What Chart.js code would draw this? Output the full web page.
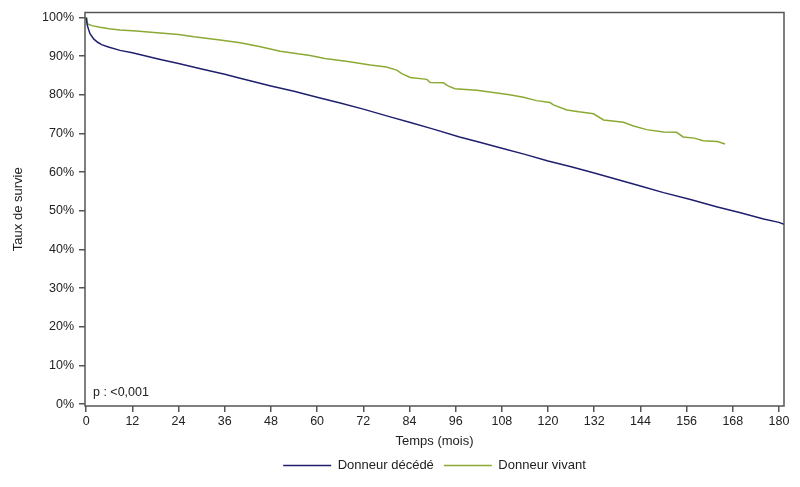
<!DOCTYPE html>
<html>
<head>
<meta charset="utf-8">
<script src="https://cdn.jsdelivr.net/npm/chart.js@4/dist/chart.umd.min.js"></script>
<style>
html,body{margin:0;padding:0;background:#fff;}
#wrap{width:800px;height:487px;position:relative;}
</style>
</head>
<body>
<div id="wrap"><canvas id="c"></canvas></div>
<script>
const xTicks = [0,12,24,36,48,60,72,84,96,108,120,132,144,156,168,180];
const yTicks = [0,10,20,30,40,50,60,70,80,90,100];

const decedeMonths = [0,0.3,0.6,1,2,3,4,6,8.8,12,19,24,30,36,40,48,54,60,66,72,79,84,90,97,102,108,114,120,126,132,138,144,150,157,164,170,176,180,181.3];
const decedeSurvie = [100,98,97,95.8,94.4,93.6,93,92.3,91.5,90.9,89.2,88.1,86.7,85.3,84.3,82.3,80.9,79.4,77.9,76.3,74.3,72.9,71.2,69.1,67.8,66.2,64.6,62.9,61.4,59.8,58.1,56.4,54.7,52.9,51.0,49.5,47.9,47.0,46.5];

const vivantMonths = [0,0.2,0.5,1.5,3.6,6,8.8,13,19.2,24,28,34.8,40,45,50.4,55,58.2,62,68,73.8,78,80.7,82,84.2,88.5,89.4,92.8,94,95.8,101.5,106.7,110,113.6,117,120.5,121.4,124.9,128,131.8,134.4,139.6,142,145.6,150,153.4,155.1,158,160.3,164,166];
const vivantSurvie = [100,98.8,98.3,97.9,97.5,97.1,96.8,96.5,96.0,95.6,95.0,94.2,93.5,92.5,91.3,90.6,90.2,89.4,88.6,87.7,87.2,86.4,85.5,84.5,84.0,83.2,83.1,82.3,81.6,81.2,80.5,80.0,79.4,78.5,78.0,77.4,76.1,75.6,75.1,73.5,72.9,72.0,71.0,70.4,70.3,69.1,68.8,68.1,67.9,67.3];

const pText = 'p : <0,001';

const toXY = (xs, ys) => xs.map((x,i)=>({x:x, y:ys[i]}));

const framePlugin = {
  id:'frame',
  afterDatasetsDraw(chart){
    const a = chart.chartArea, ctx = chart.ctx;
    ctx.save();
    ctx.strokeStyle = '#555';
    ctx.lineWidth = 1.5;
    ctx.strokeRect(a.left, a.top, a.right-a.left, a.bottom-a.top);
    ctx.fillStyle = '#222';
    ctx.font = '12.5px "Liberation Sans", Arial, sans-serif';
    ctx.textBaseline = 'middle';
    ctx.textAlign = 'left';
    ctx.fillText(pText, a.left+8, a.bottom-13);
    ctx.restore();
  }
};

const font = {family:'"Liberation Sans", Arial, sans-serif', size:12.5};

new Chart(document.getElementById('c'), {
  type:'line',
  data:{
    datasets:[
      {label:'Donneur décédé', data:toXY(decedeMonths, decedeSurvie), borderColor:'#1f1f6e', backgroundColor:'#1f1f6e', borderWidth:1.5, pointRadius:0, tension:0},
      {label:'Donneur vivant', data:toXY(vivantMonths, vivantSurvie), borderColor:'#8aaa34', backgroundColor:'#8aaa34', borderWidth:1.5, pointRadius:0, tension:0}
    ]
  },
  options:{
    responsive:true,
    maintainAspectRatio:false,
    animation:false,
    layout:{padding:{top:12,right:16,left:0,bottom:5}},
    plugins:{
      legend:{
        position:'bottom',
        fullSize:false,
        labels:{usePointStyle:true, pointStyle:'line', pointStyleWidth:48, font:{family:font.family, size:13}, color:'#222', padding:10}
      },
      tooltip:{enabled:false}
    },
    scales:{
      x:{
        type:'linear', min:-0.3, max:181.3,
        afterBuildTicks:(ax)=>{ax.ticks = xTicks.map(v=>({value:v}));},
        afterFit:(ax)=>{ax.height = 43;},
        grid:{drawOnChartArea:false, drawTicks:true, tickLength:6, color:'#555', lineWidth:1.5},
        border:{display:false},
        ticks:{font:font, color:'#222', padding:2, maxRotation:0, autoSkip:false},
        title:{display:true, text:'Temps (mois)', font:{family:font.family, size:13}, color:'#222', padding:{top:2,bottom:0}}
      },
      y:{
        type:'linear', min:-0.5, max:101.3,
        afterBuildTicks:(ax)=>{ax.ticks = yTicks.map(v=>({value:v}));},
        afterFit:(ax)=>{ax.width = 85;},
        grid:{drawOnChartArea:false, drawTicks:true, tickLength:6, color:'#555', lineWidth:1.5},
        border:{display:false},
        ticks:{font:font, color:'#222', padding:5, callback:(v)=>v+'%'},
        title:{display:true, text:'Taux de survie', font:{family:font.family, size:13}, color:'#222', padding:{top:11,bottom:0}}
      }
    }
  },
  plugins:[framePlugin]
});
</script>
</body>
</html>
